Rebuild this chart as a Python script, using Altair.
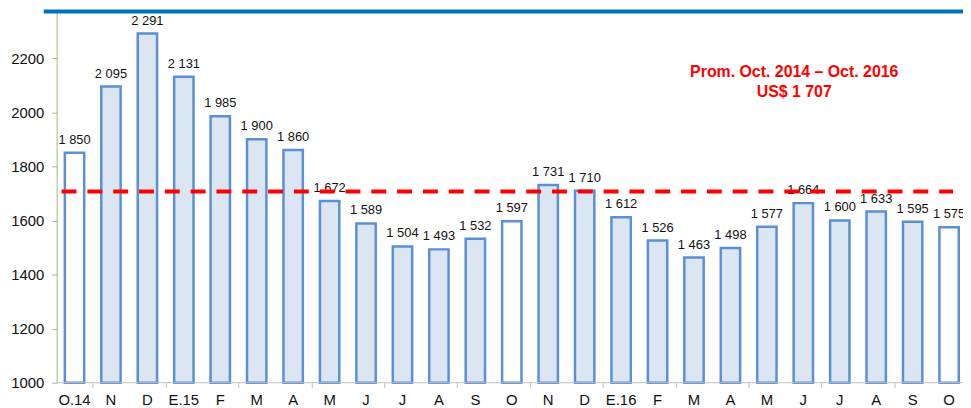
import altair as alt
import pandas as pd

months = ["O.14", "N", "D", "E.15", "F", "M", "A", "M", "J", "J", "A", "S", "O",
          "N", "D", "E.16", "F", "M", "A", "M", "J", "J", "A", "S", "O"]
values = [1850, 2095, 2291, 2131, 1985, 1900, 1860, 1672, 1589, 1504, 1493, 1532, 1597,
          1731, 1710, 1612, 1526, 1463, 1498, 1577, 1664, 1600, 1633, 1595, 1575]
average = 1707
note_lines = ["Prom. Oct. 2014 \u2013  Oct. 2016", "US$ 1 707"]
y_ticks = [1000, 1200, 1400, 1600, 1800, 2000, 2200]
y_base = 1000

df = pd.DataFrame({
    "idx": list(range(len(months))),
    "month": months,
    "value": values,
    "label": [f"{v:,}".replace(",", " ") for v in values],
    "kind": ["oct" if m.startswith("O") else "other" for m in months],
})

FONT = "Liberation Sans"
W, H = 913, 376

x_scale = alt.Scale(domain=[-0.4904, 24.382], nice=False, zero=False, padding=0)
x_enc = alt.X(
    "idx:Q",
    scale=x_scale,
    axis=alt.Axis(
        title=None, labels=False, domain=False, grid=False,
        values=list(range(len(months))),
        tickColor="#BFBFBF", tickSize=5, tickOffset=18.35,
    ),
)
y_scale = alt.Scale(domain=[1000, 2380], nice=False, zero=False)

base = alt.Chart(df)

bars = base.mark_bar(stroke="#5B8FD8", strokeWidth=2.5, width=19.5).encode(
    x=x_enc,
    y=alt.Y("value:Q", scale=y_scale,
            axis=alt.Axis(title=None, values=y_ticks, grid=False, format="d",
                          domainColor="#A6B87A", tickColor="#A6B87A", tickSize=5,
                          labelFont=FONT, labelFontSize=15, labelColor="#111111",
                          labelPadding=8)),
    y2=alt.datum(y_base),
    fill=alt.Fill("kind:N", scale=alt.Scale(domain=["oct", "other"], range=["#FFFFFF", "#DCE6F2"]),
                  legend=None),
)

labels = base.mark_text(font=FONT, fontSize=13, color="#111111", baseline="alphabetic", dy=-9).encode(
    x=alt.X("idx:Q", scale=x_scale),
    y=alt.Y("value:Q", scale=y_scale),
    text="label:N",
)

month_labels = base.mark_text(font=FONT, fontSize=15, color="#111111", baseline="middle").encode(
    x=alt.X("idx:Q", scale=x_scale),
    y=alt.value(H + 17),
    text="month:N",
)

baseline = alt.Chart(pd.DataFrame({"b": [y_base]})).mark_rule(color="#BFBFBF", strokeWidth=1).encode(
    y=alt.Y("b:Q", scale=y_scale), x=alt.value(0), x2=alt.value(W)
)

avg_df = pd.DataFrame({"avg": [average]})
rule = alt.Chart(avg_df).mark_rule(color="#FF0000", strokeWidth=4, strokeDash=[15, 11]).encode(
    y=alt.Y("avg:Q", scale=y_scale),
    x=alt.value(5),
    x2=alt.value(903),
)

note1 = alt.Chart(pd.DataFrame({"line": [note_lines[0]]})).mark_text(
    font=FONT, fontSize=16, fontWeight="bold", color="#FF0000", align="center", baseline="middle"
).encode(x=alt.value(743), y=alt.value(63), text="line:N")
note2 = alt.Chart(pd.DataFrame({"line": [note_lines[1]]})).mark_text(
    font=FONT, fontSize=16, fontWeight="bold", color="#FF0000", align="center", baseline="middle"
).encode(x=alt.value(743), y=alt.value(83), text="line:N")

band = alt.Chart(pd.DataFrame({"a": [0]})).mark_rect(color="#0070C0").encode(
    x=alt.value(-13), x2=alt.value(W), y=alt.value(0), y2=alt.value(4)
)

chart = alt.layer(bars, baseline, labels, month_labels, rule, note1, note2, band).properties(
    width=W, height=H,
    padding={"left": 49, "top": 0, "right": 0, "bottom": 24},
    autosize="none",
).configure_view(stroke=None)

chart.save("out.html", embed_options={"renderer": "svg", "actions": False})
